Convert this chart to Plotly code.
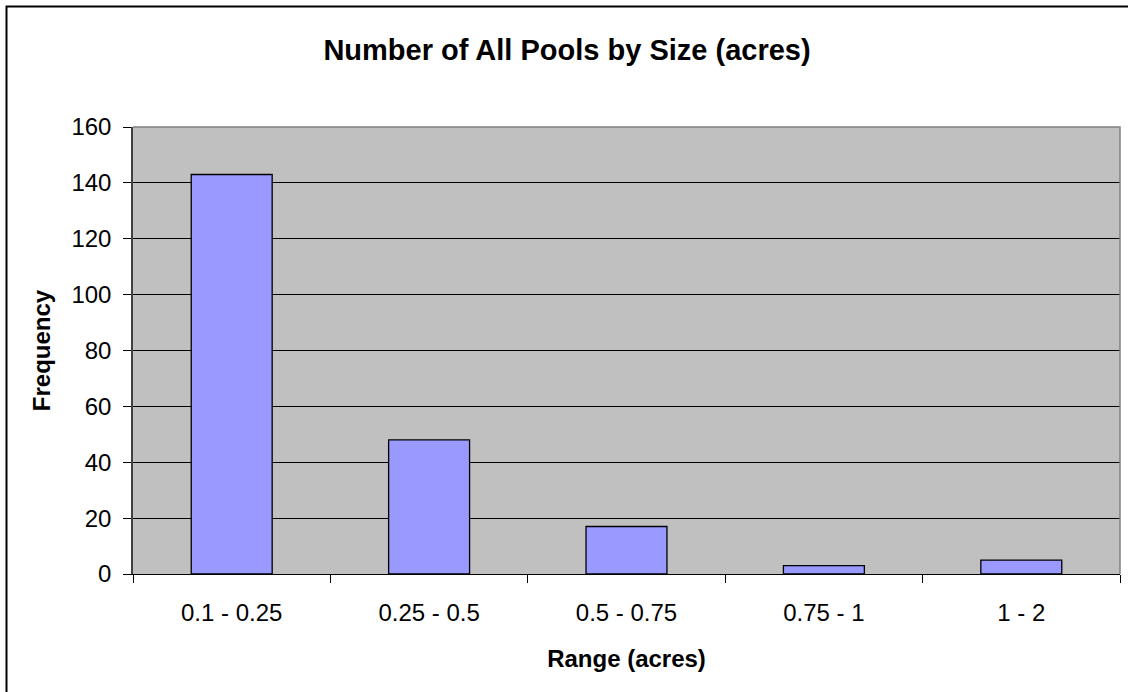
import plotly.graph_objects as go

categories = ["0.1 - 0.25", "0.25 - 0.5", "0.5 - 0.75", "0.75 - 1", "1 - 2"]
frequency = [143, 48, 17, 3, 5]
y_ticks = [0, 20, 40, 60, 80, 100, 120, 140, 160]

W, H = 1128, 692
L, R, T, B = 133, 8, 127, 118
pw, ph = W - L - R, H - T - B

fig = go.Figure()
fig.add_trace(go.Bar(
    x=categories, y=frequency,
    marker=dict(color="#9999FF", line=dict(color="black", width=1.3)),
    width=0.41,
))

font = "Liberation Sans, Arial, sans-serif"
fig.update_layout(
    width=W, height=H,
    margin=dict(l=L, r=R, t=T, b=B),
    paper_bgcolor="white",
    plot_bgcolor="#C0C0C0",
    showlegend=False,
    font=dict(family=font, color="black"),
    title=dict(text="<b>Number of All Pools by Size (acres)</b>",
               font=dict(size=29, family=font, color="black"),
               x=567 / W, xanchor="center", y=1 - 50 / H, yanchor="middle",
               xref="container", yref="container"),
    xaxis=dict(
        type="category", tickson="boundaries", ticks="outside", ticklen=8,
        tickcolor="black", tickwidth=1, showline=True, linecolor="black",
        linewidth=1, tickfont=dict(size=24), showgrid=False,
        ticklabelstandoff=17,
        title=dict(text="<b>Range (acres)</b>", font=dict(size=24), standoff=25),
    ),
    yaxis=dict(
        range=[0, 160], tickvals=y_ticks, ticks="outside", ticklen=8,
        tickcolor="black", tickwidth=1, showline=True, linecolor="#404040",
        linewidth=1.5, tickfont=dict(size=24), showgrid=True,
        gridcolor="black", gridwidth=1, zeroline=False,
        ticklabelstandoff=7,
        title=dict(text="<b>Frequency</b>", font=dict(size=24), standoff=14),
    ),
)

# outer chart border (left and top visible, right/bottom beyond the frame)
fig.add_shape(type="rect", xref="paper", yref="paper",
              x0=(6.5 - L) / pw, x1=1 + 20 / pw,
              y0=-(B + 20) / ph, y1=1 + (T - 6.5) / ph,
              line=dict(color="black", width=2), layer="below")
# plot-area border on top and right
fig.add_shape(type="path", xref="paper", yref="paper",
              path="M 0 1 L 1 1 L 1 0",
              line=dict(color="#808080", width=1.5))

fig.write_html("out.html",
               config={"displayModeBar": False},
               post_script="document.body.style.margin='0';document.body.style.overflow='hidden';")
